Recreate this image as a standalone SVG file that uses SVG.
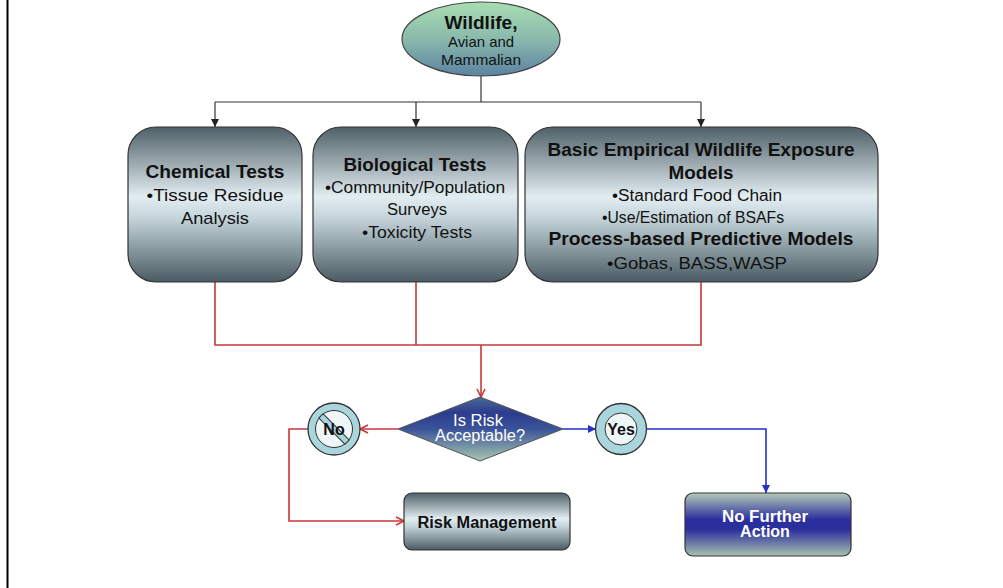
<svg xmlns="http://www.w3.org/2000/svg" width="1003" height="588" viewBox="0 0 1003 588">
<style>
text{font-family:"Liberation Sans",Arial,sans-serif;fill:#111;text-anchor:middle}
.b{font-weight:bold}
.w{fill:#fff}
.box{stroke:#333;stroke-width:1.2}
.blk{stroke:#333;stroke-width:1.2;fill:none}
.red{stroke:#c8373a;stroke-width:1.6;fill:none}
.blue{stroke:#2430c8;stroke-width:1.6;fill:none}
.ring{fill:#a9d5dc;stroke:#333;stroke-width:1.3}
.inner{fill:#eef6f8;stroke:#333;stroke-width:1}
</style>
<defs>
<linearGradient id="gBox" x1="0" y1="0" x2="0" y2="1">
<stop offset="0" stop-color="#4f6068"/>
<stop offset="0.45" stop-color="#e2edf1"/>
<stop offset="0.58" stop-color="#c6d6dc"/>
<stop offset="1" stop-color="#4a5b63"/>
</linearGradient>
<linearGradient id="gEll" x1="0" y1="0" x2="0" y2="1">
<stop offset="0" stop-color="#a8deb0"/>
<stop offset="0.5" stop-color="#8ab9ad"/>
<stop offset="1" stop-color="#5c83a0"/>
</linearGradient>
<linearGradient id="gDia" x1="0" y1="0" x2="0" y2="1">
<stop offset="0" stop-color="#4a6a96"/>
<stop offset="0.25" stop-color="#2c3b8e"/>
<stop offset="0.5" stop-color="#3a5399"/>
<stop offset="1" stop-color="#a9c8b0"/>
</linearGradient>
<linearGradient id="gNFA" x1="0" y1="0" x2="0" y2="1">
<stop offset="0" stop-color="#b4cbb9"/>
<stop offset="0.42" stop-color="#2b2f9e"/>
<stop offset="0.58" stop-color="#2b2f9e"/>
<stop offset="1" stop-color="#a8c2ae"/>
</linearGradient>
<marker id="aBlk" markerUnits="userSpaceOnUse" markerWidth="10" markerHeight="10" refX="8" refY="4" orient="auto">
<path d="M0,0 L8,4 L0,8 Z" fill="#222"/>
</marker>
<marker id="aRed" markerUnits="userSpaceOnUse" markerWidth="12" markerHeight="12" refX="9" refY="5" orient="auto">
<path d="M1,1 L9,5 L1,9" fill="none" stroke="#c8373a" stroke-width="1.6"/>
</marker>
<marker id="aBlue" markerUnits="userSpaceOnUse" markerWidth="10" markerHeight="10" refX="8" refY="4" orient="auto">
<path d="M0,0 L8,4 L0,8 Z" fill="#2430c8"/>
</marker>
</defs>
<rect x="0" y="0" width="1003" height="588" fill="#fff"/>
<line x1="7.5" y1="0" x2="7.5" y2="588" stroke="#000" stroke-width="2"/>

<g id="connectors">
<path class="blk" d="M481,75 V102"/>
<path class="blk" d="M215,102 H701"/>
<path class="blk" d="M215,102 V127" marker-end="url(#aBlk)"/>
<path class="blk" d="M416,102 V127" marker-end="url(#aBlk)"/>
<path class="blk" d="M701,102 V127" marker-end="url(#aBlk)"/>
<path class="red" d="M215,282 V345 H701 V282"/>
<path class="red" d="M416,282 V345"/>
<path class="red" d="M481,345 V397" marker-end="url(#aRed)"/>
<path class="red" d="M398,429 H360" marker-end="url(#aRed)"/>
<path class="red" d="M308,429 H289 V521 H404" marker-end="url(#aRed)"/>
<path class="blue" d="M563,429 H596" marker-end="url(#aBlue)"/>
<path class="blue" d="M647,429 H766 V493" marker-end="url(#aBlue)"/>
</g>

<g id="wildlife">
<ellipse cx="481" cy="39" rx="79" ry="37" fill="url(#gEll)" stroke="#444" stroke-width="1.2"/>
<text class="b" x="481" y="29" font-size="17.5" textLength="73" lengthAdjust="spacingAndGlyphs">Wildlife,</text>
<text x="481" y="47" font-size="15" textLength="66" lengthAdjust="spacingAndGlyphs">Avian and</text>
<text x="481" y="65" font-size="15" textLength="80" lengthAdjust="spacingAndGlyphs">Mammalian</text>
</g>

<g id="chemical">
<rect class="box" x="128" y="127" width="174" height="155" rx="28" fill="url(#gBox)"/>
<text class="b" x="215" y="178" font-size="18" textLength="139" lengthAdjust="spacingAndGlyphs">Chemical Tests</text>
<text x="215" y="201" font-size="17" textLength="137" lengthAdjust="spacingAndGlyphs">•Tissue Residue</text>
<text x="215" y="224" font-size="17" textLength="68" lengthAdjust="spacingAndGlyphs">Analysis</text>
</g>

<g id="biological">
<rect class="box" x="313" y="127" width="205" height="155" rx="28" fill="url(#gBox)"/>
<text class="b" x="415" y="171" font-size="18" textLength="143" lengthAdjust="spacingAndGlyphs">Biological Tests</text>
<text x="415" y="193" font-size="16" textLength="180" lengthAdjust="spacingAndGlyphs">•Community/Population</text>
<text x="417" y="215" font-size="16" textLength="60" lengthAdjust="spacingAndGlyphs">Surveys</text>
<text x="417" y="238" font-size="16" textLength="110" lengthAdjust="spacingAndGlyphs">•Toxicity Tests</text>
</g>

<g id="models">
<rect class="box" x="525" y="127" width="353" height="155" rx="28" fill="url(#gBox)"/>
<text class="b" x="701" y="156" font-size="18" textLength="307" lengthAdjust="spacingAndGlyphs">Basic Empirical Wildlife Exposure</text>
<text class="b" x="701" y="179" font-size="18" textLength="65" lengthAdjust="spacingAndGlyphs">Models</text>
<text x="697" y="201" font-size="16" textLength="170" lengthAdjust="spacingAndGlyphs">•Standard Food Chain</text>
<text x="693" y="223" font-size="16.5" textLength="182" lengthAdjust="spacingAndGlyphs">•Use/Estimation of BSAFs</text>
<text class="b" x="701" y="245" font-size="18" textLength="305" lengthAdjust="spacingAndGlyphs">Process-based Predictive Models</text>
<text x="697" y="269" font-size="17" textLength="180" lengthAdjust="spacingAndGlyphs">•Gobas, BASS,WASP</text>
</g>

<g id="decision">
<polygon points="480,397 563,429 480,461 398,429" fill="url(#gDia)" stroke="#555" stroke-width="1"/>
<text class="w" x="478" y="426" font-size="16" textLength="50" lengthAdjust="spacingAndGlyphs">Is Risk</text>
<text class="w" x="480" y="441" font-size="16" textLength="90" lengthAdjust="spacingAndGlyphs">Acceptable?</text>
</g>

<g id="no">
<circle class="ring" cx="334" cy="429" r="26"/>
<circle class="inner" cx="334" cy="429" r="18.5"/>
<g transform="rotate(45 334 429)">
<rect x="315.5" y="426" width="37" height="6" fill="#a9d5dc" stroke="#333" stroke-width="1"/>
</g>
<text class="b" x="334" y="435" font-size="16">No</text>
</g>

<g id="yes">
<circle class="ring" cx="621" cy="429" r="25.5"/>
<circle class="inner" cx="621" cy="429" r="16"/>
<text class="b" x="621" y="435" font-size="16">Yes</text>
</g>

<g id="risk-management">
<rect class="box" x="404" y="493" width="166" height="57" rx="8" fill="url(#gBox)"/>
<text class="b" x="487" y="528" font-size="16" textLength="139" lengthAdjust="spacingAndGlyphs">Risk Management</text>
</g>

<g id="no-further-action">
<rect class="box" x="685" y="493" width="166" height="63" rx="8" fill="url(#gNFA)"/>
<text class="b w" x="765" y="522" font-size="16" textLength="86" lengthAdjust="spacingAndGlyphs">No Further</text>
<text class="b w" x="765" y="537" font-size="16">Action</text>
</g>
</svg>
